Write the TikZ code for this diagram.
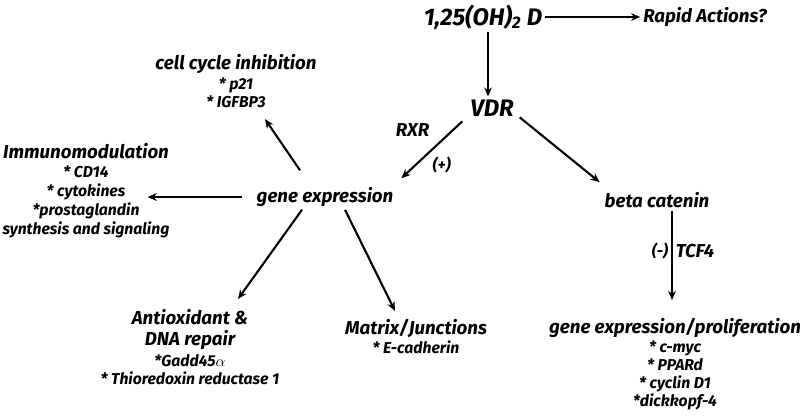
\documentclass[tikz,border=0pt]{standalone}
\usepackage{fontspec}
\setmainfont{Fira Sans}
\usetikzlibrary{arrows.meta,calc}

\newcommand{\bigsize}{\fontsize{17}{20}\selectfont}
\newcommand{\headsize}{\fontsize{13.3}{16}\selectfont}
\newcommand{\itemsize}{\fontsize{11.2}{12.8}\selectfont}

\begin{document}
\begin{tikzpicture}[x=0.025cm, y=-0.025cm,
  every node/.style={font=\bfseries\itshape, align=center, inner sep=2pt},
  arr/.style={-{Stealth[length=6.5pt,width=5.5pt]}, line width=1.5pt},
  block/.style={anchor=north, inner sep=0pt, font=\bfseries\itshape\itemsize}]
\useasboundingbox (0,0) rectangle (800,419);

% Top: hormone and receptor
\node[font=\bfseries\itshape\bigsize] (vitd) at (483,17) {1,25(OH)\textsubscript{2} D};
\node[font=\bfseries\itshape\headsize] (rapid) at (705,17) {Rapid Actions?};
\node[font=\bfseries\itshape\bigsize] (vdr) at (492,108) {VDR};

% Middle level
\node[font=\bfseries\itshape\headsize] (gene) at (325,197) {gene expression};
\node[font=\bfseries\itshape\headsize] (beta) at (657,200) {beta catenin};

% Target blocks
\node[block] (cell) at (236,54) {{\headsize cell cycle inhibition}\\[1.5pt]
  * p21\\* IGFBP3};
\node[block, font=\bfseries\itshape\fontsize{11.2}{13.4}\selectfont] (immuno) at (86,143)
  {{\headsize Immunomodulation}\\[0.5pt]
  * CD14\\* cytokines\\*prostaglandin\\synthesis and signaling};
\node[block] (antiox) at (190,309) {{\headsize Antioxidant \&}\\[2.5pt]{\headsize DNA repair}\\[1.5pt]
  *Gadd45$\alpha$\\* Thioredoxin reductase 1};
\node[block] (matrix) at (416,319) {{\headsize Matrix/Junctions}\\[1pt]
  * E-cadherin};
\node[block] (prolif) at (675,318) {{\headsize gene expression/proliferation}\\[0.5pt]
  * c-myc\\* PPARd\\* cyclin D1\\*dickkopf-4};

% Arrows
\draw[arr] (vitd) -- (rapid);
\draw[arr] ($(vitd.south)+(5,0)$) -- ($(vitd.south |- vdr.north)+(5,0)$);
\draw[arr] ($(vdr.south west)+(-5,2)$) -- ($(gene.north east)+(5,-6)$)
  node[pos=0.34, above left, xshift=-6pt, font=\bfseries\itshape\headsize] (rxr) {RXR}
  node[pos=0.55, below right, font=\bfseries\itshape\itemsize] (plus) {(+)};
\draw[arr] ($(vdr.south east)+(3,-2)$) -- ($(beta.north west)+(-2,-7)$);
\draw[arr] ($(beta.south)+(15,0)$) -- ($(beta.south |- prolif.north)+(15,-18)$)
  node[pos=0.45, left, font=\bfseries\itshape\itemsize] (minus) {(-)}
  node[pos=0.45, right, font=\bfseries\itshape\headsize] (tcf) {TCF4};
\draw[arr] ($(gene.north)+(-25,-14)$) -- ($(cell.south)+(29,11)$);
\draw[arr] ($(gene.west)+(-12,0)$) -- ($(gene.west -| immuno.east)+(-22,0)$);
\draw[arr] ($(gene.south)+(-23,0)$) -- ($(antiox.north)+(48,-10)$);
\draw[arr] ($(gene.south)+(20,0)$) -- ($(matrix.north)+(-21,-8)$);
\end{tikzpicture}
\end{document}
